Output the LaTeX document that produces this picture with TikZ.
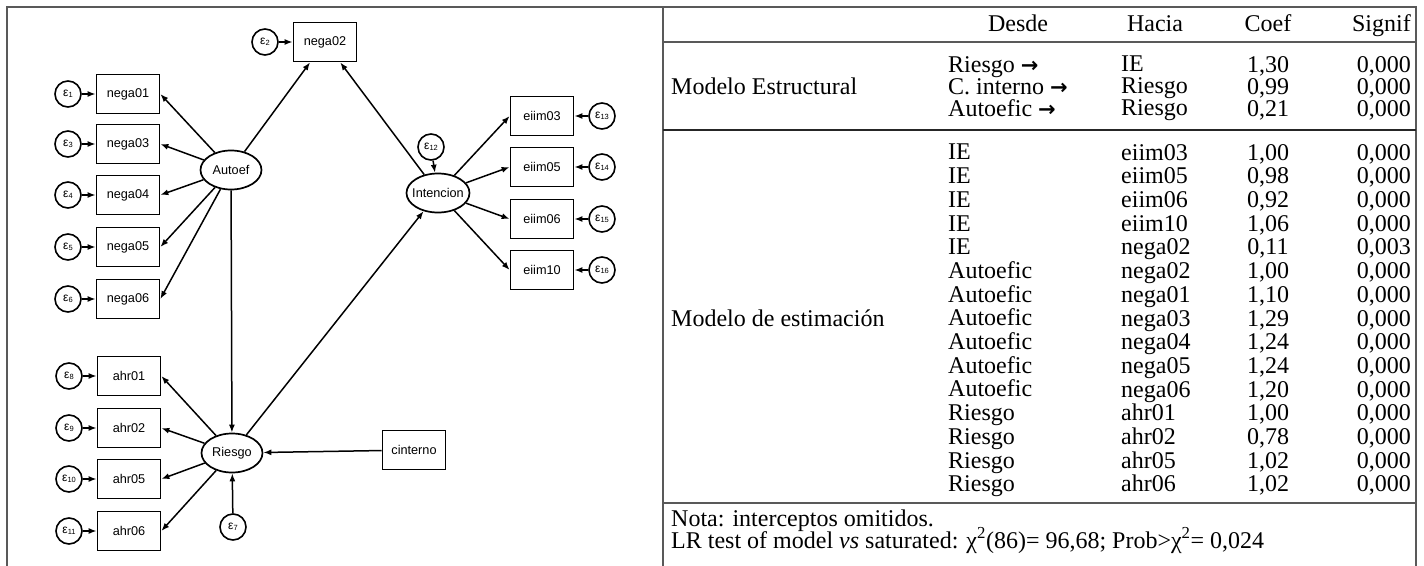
\documentclass[tikz,border=0pt]{standalone}
\usepackage{fontspec}
\setmainfont{Liberation Serif}
\newfontfamily\diagfont{Liberation Sans}
\newfontfamily\arrowfont{DejaVu Sans}
\usetikzlibrary{positioning,arrows.meta,shapes.geometric}

% error term label
\newcommand{\errlab}[1]{{\fontsize{12}{12}\selectfont ε\raisebox{-1.5pt}{\fontsize{7.5}{7.5}\selectfont #1}}}
% bold arrow of the table
\newcommand{\tabarrow}{{\arrowfont\bfseries\fontsize{21}{21}\selectfont →}}

\begin{document}
\begin{tikzpicture}[x=1pt, y=-1pt, >={Latex[length=8pt,width=6pt]}, font=\diagfont\fontsize{12.7}{15}\selectfont]
\tikzstyle{obs} = [draw, line width=1.7pt, minimum width=63pt, minimum height=39pt, inner sep=0pt]
\tikzstyle{lat} = [draw, ellipse, line width=1.7pt, minimum width=61pt, minimum height=39pt, inner sep=0pt]
\tikzstyle{err} = [draw, circle, line width=1.6pt, minimum size=26pt, inner sep=0pt]
\tikzstyle{link} = [->, line width=1.5pt]
\tikzstyle{frame} = [line width=1.3pt, black!65]
\tikzstyle{cell} = [inner sep=0pt, font=\fontsize{24}{23.7}\selectfont]

\useasboundingbox (0,0) rectangle (1424,565);

% frame
\draw[frame] (7,566) -- (7,7) -- (1416,7) -- (1416,566);
\draw[frame] (663,7) -- (663,566);
\draw[frame] (663,42) -- (1416,42);
\draw[line width=1.3pt, black!85] (663,130) -- (1416,130);
\draw[frame] (663,503) -- (1416,503);

% path diagram
\node[obs] (nega02) at (325,42) {nega02};
\node[err] (e2) at (265,42) {\errlab{2}};
\node[obs] (nega01) at (128,94) {nega01};
\node[obs] (nega03) at (128,144) {nega03};
\node[obs] (nega04) at (128,195) {nega04};
\node[obs] (nega05) at (128,247) {nega05};
\node[obs] (nega06) at (128,299) {nega06};
\node[err] (e1) at (68,94) {\errlab{1}};
\node[err] (e3) at (68,144) {\errlab{3}};
\node[err] (e4) at (68,195) {\errlab{4}};
\node[err] (e5) at (68,247) {\errlab{5}};
\node[err] (e6) at (68,299) {\errlab{6}};
\node[lat] (autoef) at (231,170) {\makebox[0pt]{Autoef}};

\node[lat, minimum width=63pt] (intencion) at (438,193) {\makebox[0pt]{Intencion}};
\node[err] (e12) at (431,147) {\errlab{12}};
\node[obs] (eiim03) at (542,116) {eiim03};
\node[obs] (eiim05) at (542,167) {eiim05};
\node[obs] (eiim06) at (542,219) {eiim06};
\node[obs] (eiim10) at (542,270) {eiim10};
\node[err] (e13) at (602,116) {\errlab{13}};
\node[err] (e14) at (602,167) {\errlab{14}};
\node[err] (e15) at (602,219) {\errlab{15}};
\node[err] (e16) at (602,270) {\errlab{16}};

\node[lat] (riesgo) at (232,453) {\makebox[0pt]{Riesgo}};
\node[err] (e7) at (233,527) {\errlab{7}};
\node[obs] (ahr01) at (129,376) {ahr01};
\node[obs] (ahr02) at (129,428) {ahr02};
\node[obs] (ahr05) at (129,479) {ahr05};
\node[obs] (ahr06) at (129,531) {ahr06};
\node[err] (e8) at (69,376) {\errlab{8}};
\node[err] (e9) at (69,428) {\errlab{9}};
\node[err] (e10) at (69,479) {\errlab{10}};
\node[err] (e11) at (69,531) {\errlab{11}};
\node[obs] (cinterno) at (414,450) {cinterno};

\draw[link] (e2) -- (nega02);
\draw[link] (e1) -- (nega01);
\draw[link] (e3) -- (nega03);
\draw[link] (e4) -- (nega04);
\draw[link] (e5) -- (nega05);
\draw[link] (e6) -- (nega06);
\draw[link] (autoef) -- (nega01.east);
\draw[link] (autoef) -- (nega03.east);
\draw[link] (autoef) -- (nega04.east);
\draw[link] (autoef) -- (nega05.east);
\draw[link] (autoef) -- (nega06.east);
\draw[link] (autoef) -- (nega02);
\draw[link] (intencion) -- (nega02);
\draw[link] (autoef) -- (riesgo);
\draw[link] (riesgo) -- (intencion);
\draw[link] (cinterno) -- (riesgo);
\draw[link] (e7) -- (riesgo);
\draw[link] (e12) -- (intencion);
\draw[link] (intencion) -- (eiim03.west);
\draw[link] (intencion) -- (eiim05.west);
\draw[link] (intencion) -- (eiim06.west);
\draw[link] (intencion) -- (eiim10.west);
\draw[link] (e13) -- (eiim03);
\draw[link] (e14) -- (eiim05);
\draw[link] (e15) -- (eiim06);
\draw[link] (e16) -- (eiim10);
\draw[link] (riesgo) -- (ahr01.east);
\draw[link] (riesgo) -- (ahr02.east);
\draw[link] (riesgo) -- (ahr05.east);
\draw[link] (riesgo) -- (ahr06.east);
\draw[link] (e8) -- (ahr01);
\draw[link] (e9) -- (ahr02);
\draw[link] (e10) -- (ahr05);
\draw[link] (e11) -- (ahr06);

% table
\node[cell, anchor=base] (hdesde) at (1018,31) {Desde};
\node[cell, anchor=base] (hhacia) at (1155,31) {Hacia};
\node[cell, anchor=base] (hcoef) at (1268,31) {Coef};
\node[cell, anchor=base east] (hsignif) at (1411,31) {Signif};

\node[cell, anchor=base west] (estructural) at (671,94) {Modelo Estructural};
\node[cell, anchor=north west, align=left, font=\fontsize{24}{22}\selectfont] (desde1) at (948,56) {Riesgo \tabarrow\\C. interno \tabarrow\\Autoefic \tabarrow};
\node[cell, anchor=north west, align=left, font=\fontsize{24}{22}\selectfont] (hacia1) at (1121,56) {IE\\Riesgo\\Riesgo};
\node[cell, anchor=north, align=center, font=\fontsize{24}{22}\selectfont] (coef1) at (1268,56) {1,30\\0,99\\0,21};
\node[cell, anchor=north east, align=right, font=\fontsize{24}{22}\selectfont] (signif1) at (1411,56) {0,000\\0,000\\0,000};

\node[cell, anchor=base west] (estimacion) at (671,326) {Modelo de estimación};
\node[cell, anchor=north west, align=left] (desde2) at (948,144) {IE\\IE\\IE\\IE\\IE\\Autoefic\\Autoefic\\Autoefic\\Autoefic\\Autoefic\\Autoefic\\Riesgo\\Riesgo\\Riesgo\\Riesgo};
\node[cell, anchor=north west, align=left] (hacia2) at (1121,144) {eiim03\\eiim05\\eiim06\\eiim10\\nega02\\nega02\\nega01\\nega03\\nega04\\nega05\\nega06\\ahr01\\ahr02\\ahr05\\ahr06};
\node[cell, anchor=north, align=center] (coef2) at (1268,144) {1,00\\0,98\\0,92\\1,06\\0,11\\1,00\\1,10\\1,29\\1,24\\1,24\\1,20\\1,00\\0,78\\1,02\\1,02};
\node[cell, anchor=north east, align=right] (signif2) at (1411,144) {0,000\\0,000\\0,000\\0,000\\0,003\\0,000\\0,000\\0,000\\0,000\\0,000\\0,000\\0,000\\0,000\\0,000\\0,000};

\node[cell, anchor=base west] (nota) at (671,526) {Nota: interceptos omitidos.};
\node[cell, anchor=base west] (lrtest) at (671,548) {LR test of model \textit{vs} saturated: χ\textsuperscript{2}(86)= 96,68; Prob>χ\textsuperscript{2}= 0,024};
\end{tikzpicture}
\end{document}
